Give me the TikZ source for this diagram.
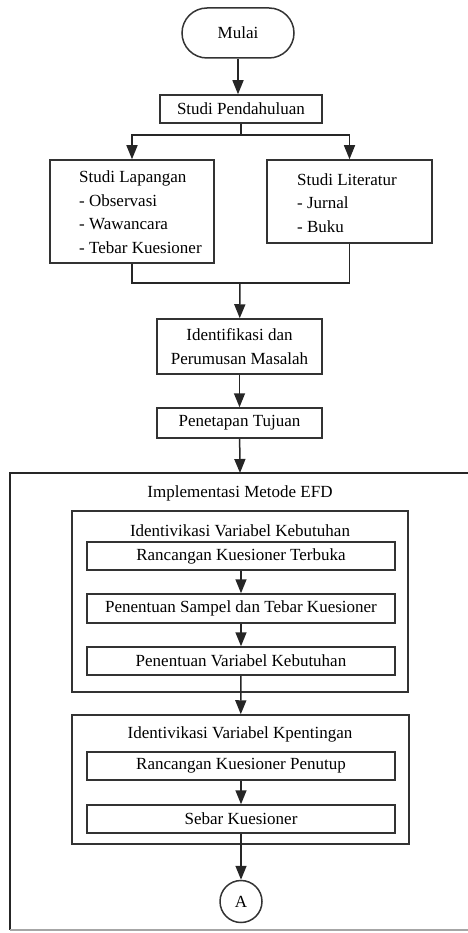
\documentclass[tikz,border=0pt]{standalone}
\usepackage{fontspec}
\setmainfont{Liberation Serif}
\usetikzlibrary{arrows.meta}

\tikzset{%
  kotak/.style={draw=black!80, line width=1.5pt, inner sep=0pt, minimum height=28pt, font=\fontsize{17}{23.5}\selectfont},%
  teks/.style={inner sep=0pt, font=\fontsize{17}{23.5}\selectfont},%
  garis/.style={draw=black!85, line width=1.5pt},%
  panah/.style={garis, -{Triangle[length=14pt,width=11pt]}}%
}

\begin{document}
\begin{tikzpicture}[x=1pt,y=-1pt]%
  \useasboundingbox (0,0) rectangle (467,933);%
  \node[kotak, rounded corners=25pt, minimum width=112pt, minimum height=50pt] (mulai) at (238,33) {Mulai};%
  \node[kotak, minimum width=162pt] (pendahuluan) at (241,109) {Studi Pendahuluan};%
  \coordinate (cabang) at (241,135);%
  \node[kotak, minimum width=164pt, minimum height=103pt] (lapangan) at (132,211.5) {};%
  \node[teks, anchor=west, align=left] (lapanganteks) at (79,212) {Studi Lapangan\\- Observasi\\- Wawancara\\- Tebar Kuesioner};%
  \node[kotak, minimum width=165pt, minimum height=83pt] (literatur) at (349.5,201.5) {};%
  \node[teks, anchor=west, align=left] (literaturteks) at (297,203) {Studi Literatur\\- Jurnal\\- Buku};%
  \coordinate (gabung) at (240,283);%
  \node[kotak, minimum width=165pt, minimum height=55pt, align=center] (identifikasi) at (239.5,346.5) {Identifikasi dan\\Perumusan Masalah};%
  \node[kotak, minimum width=165pt, minimum height=30pt] (tujuan) at (239.5,423) {Penetapan Tujuan};%
  \coordinate (bingkai) at (240,473);%
  \node[teks] (efd) at (240,493) {Implementasi Metode EFD};%
  \node[kotak, minimum width=336pt, minimum height=181pt] (kebutuhan) at (240,601.5) {};%
  \node[teks] (kebutuhanjudul) at (240,531) {Identivikasi Variabel Kebutuhan};%
  \node[kotak, minimum width=308pt] (terbuka) at (241,556) {Rancangan Kuesioner Terbuka};%
  \node[kotak, minimum width=308pt, minimum height=29pt] (sampel) at (241,608.5) {Penentuan Sampel dan Tebar Kuesioner};%
  \node[kotak, minimum width=308pt] (variabel) at (241,661) {Penentuan Variabel Kebutuhan};%
  \node[kotak, minimum width=337pt, minimum height=129pt] (kepentingan) at (240.5,779.5) {};%
  \node[teks] (kepentinganjudul) at (240,734) {Identivikasi Variabel Kpentingan};%
  \node[kotak, minimum width=308pt] (penutup) at (241,766) {Rancangan Kuesioner Penutup};%
  \node[kotak, minimum width=308pt] (sebar) at (241,819) {Sebar Kuesioner};%
  \node[kotak, circle, minimum size=42pt] (a) at (241,901.5) {A};%
  \draw[garis] (480,473) -| (10,930);%
  \draw[draw=black!35, line width=1.2pt] (10,930) -- (480,930);%
  \draw[panah] (mulai.south) -- (mulai.south |- pendahuluan.north);%
  \draw[garis] (pendahuluan) -- (cabang);%
  \draw[panah] (cabang) -| (lapangan);%
  \draw[panah] (cabang) -| (literatur);%
  \draw[garis] (lapangan) |- (gabung) -| (literatur);%
  \draw[panah] (gabung) -- (identifikasi);%
  \draw[panah] (identifikasi) -- (tujuan);%
  \draw[panah] (tujuan) -- (bingkai);%
  \draw[panah] (terbuka) -- (sampel);%
  \draw[panah] (sampel) -- (variabel);%
  \draw[panah] (variabel) -- (kepentingan);%
  \draw[panah] (penutup) -- (sebar);%
  \draw[panah] (sebar) -- (a);%
\end{tikzpicture}
\end{document}
